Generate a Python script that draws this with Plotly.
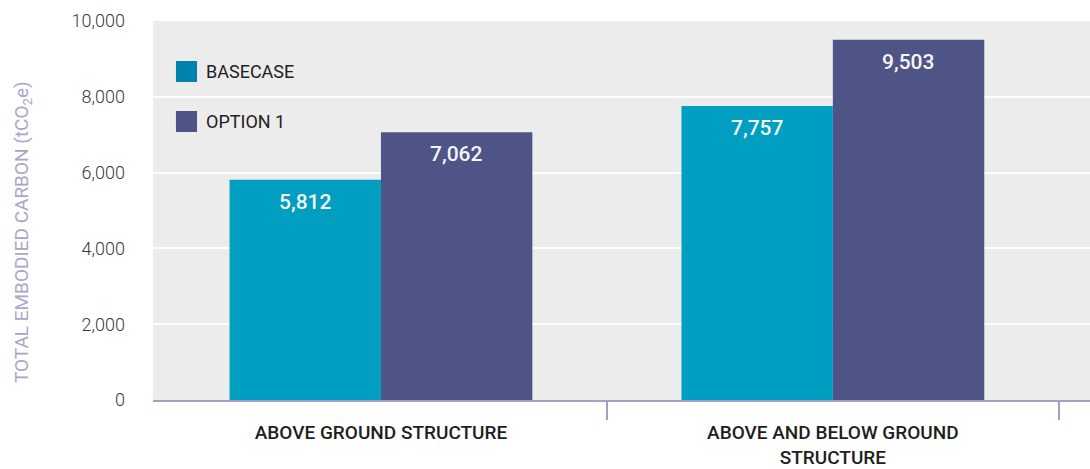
import plotly.graph_objects as go

categories = ["ABOVE GROUND STRUCTURE", "ABOVE AND BELOW GROUND<br>STRUCTURE"]
series_names = ["BASECASE", "OPTION 1"]
basecase = [5812, 7757]
option1 = [7062, 9503]
y_ticks = [0, 2000, 4000, 6000, 8000, 10000]

bar_colors = ["#009EC1", "#4F5487"]
legend_colors = ["#0083AE", "#4F5487"]

x_pos = list(range(len(categories)))
bounds = [i + 0.5 for i in x_pos]

fig = go.Figure()
for name, vals, col in zip(series_names, [basecase, option1], bar_colors):
    fig.add_trace(go.Bar(x=x_pos, y=vals, name=name, marker=dict(color=col, line=dict(width=0)),
                         showlegend=False, hoverinfo="skip"))

# value labels
bar_px = 151
for k, vals in enumerate([basecase, option1]):
    shift = (-0.5 if k == 0 else 0.5) * bar_px
    for xi, v in zip(x_pos, vals):
        fig.add_annotation(x=xi, y=v, xref="x", yref="y", text=f"{v:,}", showarrow=False,
                           xshift=shift, yshift=-22, yanchor="middle",
                           font=dict(family="Roboto", size=21, color="#F4F4F4", weight=500))

# legend (squares + labels)
leg_y = [(0.8945, 0.839), (0.7625, 0.7071)]
for name, col, (y1, y0) in zip(series_names, legend_colors, leg_y):
    fig.add_shape(type="rect", xref="paper", yref="paper", x0=0.0245, x1=0.047, y0=y0, y1=y1,
                  fillcolor=col, line=dict(width=0))
    fig.add_annotation(xref="paper", yref="paper", x=0.0545, y=(y0 + y1) / 2, text=name,
                       showarrow=False, xanchor="left", yanchor="middle",
                       font=dict(family="Roboto", size=18, color="#222222"))

# y axis title
fig.add_annotation(xref="paper", yref="paper", x=-0.1398, y=0.443, textangle=-90,
                   text="TOTAL EMBODIED CARBON (tCO<sub>2</sub>e)", showarrow=False,
                   xanchor="center", yanchor="middle",
                   font=dict(family="Roboto", size=19, color="#A9A6C9"))

fig.update_layout(
    width=1090, height=469,
    margin=dict(l=153, r=0, t=21, b=69, autoexpand=False),
    paper_bgcolor="white", plot_bgcolor="#ECECEC",
    barmode="group", bargap=0.33, bargroupgap=0,
    showlegend=False,
    font=dict(family="Roboto"),
)
fig.update_xaxes(
    type="linear", range=[-0.5044, 1.569], automargin=False,
    tickmode="array", tickvals=x_pos, ticktext=categories,
    ticks="", showgrid=False, zeroline=False,
    showline=True, linecolor="#A39FC6", linewidth=2, layer="below traces",
    tickfont=dict(family="Roboto", size=19, color="#1E1E1E", weight=500),
    ticklabelstandoff=14,
    minor=dict(tickmode="array", tickvals=bounds, ticks="outside", ticklen=18,
               tickwidth=2, tickcolor="#A39FC6", showgrid=False),
)
fig.update_yaxes(
    range=[0, 10000], tickmode="array", tickvals=y_ticks, automargin=False,
    ticktext=[f"{v:,}" for v in y_ticks],
    showgrid=True, gridcolor="white", gridwidth=1.5, zeroline=False,
    showline=False, ticks="",
    tickfont=dict(family="Roboto", size=18, color="#3A3A3A", weight=300),
    ticklabelstandoff=27,
)

fig.write_html("out.html")
